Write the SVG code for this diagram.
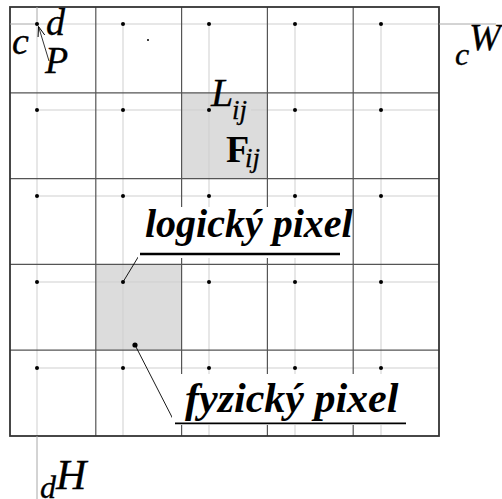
<svg xmlns="http://www.w3.org/2000/svg" width="502" height="499" viewBox="0 0 502 499">
<defs>
<style>
.dark{stroke:#555;stroke-width:1.2;fill:none}
.light{stroke:#cfcfcf;stroke-width:1;fill:none}
.mid{stroke:#a8a8a8;stroke-width:1;fill:none}
.dot{fill:#000}
.it{font-family:"Liberation Serif","Times New Roman",serif;font-style:italic;fill:#000;stroke:#000;stroke-width:0.3}
.bi{font-family:"Liberation Serif","Times New Roman",serif;font-style:italic;font-weight:bold;fill:#000}
.bd{font-family:"Liberation Serif","Times New Roman",serif;font-weight:bold;fill:#000}
.shade{fill:#dcdcdc}
</style>
<marker id="ah" viewBox="0 0 10 10" refX="10" refY="5" markerWidth="10" markerHeight="10" markerUnits="userSpaceOnUse" orient="auto">
<path d="M0,1.5 L10,5 L0,8.5" fill="none" stroke="#000" stroke-width="0.9"/>
</marker>
</defs>
<rect width="502" height="499" fill="#fff"/>

<g id="shaded-cells">
<rect class="shade" x="181.6" y="92.8" width="85.8" height="85.8"/>
<rect class="shade" x="95.8" y="264.4" width="85.8" height="85.8"/>
</g>

<g id="logical-grid">
<path class="light" d="M37,24H439 M37,110H439 M37,196H439 M37,282H439 M37,368H439"/>
<path class="light" d="M37,24V436 M123,24V436 M209,24V436 M295,24V436 M381,24V436"/>
</g>

<g id="physical-grid">
<path class="dark" d="M95.8,7V436 M181.6,7V436 M267.4,7V436 M353.2,7V436"/>
<path class="dark" d="M10,92.8H439 M10,178.6H439 M10,264.4H439 M10,350.2H439"/>
<rect x="10" y="7" width="429" height="429" fill="none" stroke="#333" stroke-width="1.8"/>
</g>

<g id="offsets">
<path class="mid" d="M10,24H37 M37,7V24"/>
<path class="mid" d="M439,24H496"/>
<path class="mid" d="M37,436V499"/>
</g>

<g id="dots">
<circle class="dot" cx="37" cy="24" r="2"/><circle class="dot" cx="123" cy="24" r="2"/><circle class="dot" cx="209" cy="24" r="2"/><circle class="dot" cx="295" cy="24" r="2"/><circle class="dot" cx="381" cy="24" r="2"/>
<circle class="dot" cx="37" cy="110" r="2"/><circle class="dot" cx="123" cy="110" r="2"/><circle class="dot" cx="209" cy="110" r="2"/><circle class="dot" cx="295" cy="110" r="2"/><circle class="dot" cx="381" cy="110" r="2"/>
<circle class="dot" cx="37" cy="196" r="2"/><circle class="dot" cx="123" cy="196" r="2"/><circle class="dot" cx="209" cy="196" r="2"/><circle class="dot" cx="295" cy="196" r="2"/><circle class="dot" cx="381" cy="196" r="2"/>
<circle class="dot" cx="37" cy="282" r="2"/><circle class="dot" cx="123" cy="282" r="2"/><circle class="dot" cx="209" cy="282" r="2"/><circle class="dot" cx="295" cy="282" r="2"/><circle class="dot" cx="381" cy="282" r="2"/>
<circle class="dot" cx="37" cy="368" r="2"/><circle class="dot" cx="123" cy="368" r="2"/><circle class="dot" cx="209" cy="368" r="2"/><circle class="dot" cx="295" cy="368" r="2"/><circle class="dot" cx="381" cy="368" r="2"/>
<circle class="dot" cx="148" cy="40" r="1"/>
<circle class="dot" cx="135" cy="345" r="2.6"/>
</g>

<g id="connectors">
<line x1="49" y1="61" x2="38.5" y2="26.5" stroke="#000" stroke-width="0.8" marker-end="url(#ah)"/>
<line x1="140" y1="254" x2="123" y2="282" stroke="#000" stroke-width="0.9"/>
<line x1="175" y1="423" x2="135" y2="345" stroke="#000" stroke-width="0.9"/>
</g>

<g id="label-c"><text class="it" x="12" y="54" font-size="38">c</text></g>
<g id="label-d"><text class="it" x="46" y="35" font-size="38">d</text></g>
<g id="label-P"><text class="it" x="45" y="73" font-size="38">P</text></g>
<g id="label-cW"><text class="it" x="455" y="65" font-size="32">c</text><text class="it" x="469" y="50" font-size="38">W</text></g>
<g id="label-dH"><text class="it" x="40" y="498" font-size="32">d</text><text class="it" x="56" y="489" font-size="42">H</text></g>

<g id="label-Lij">
<rect class="shade" x="211" y="97" width="40" height="28"/>
<text class="it" x="211" y="106" font-size="40">L</text><text class="it" x="232" y="119" font-size="27">ij</text>
</g>
<g id="label-Fij">
<text class="bd" x="226" y="162" font-size="38">F</text><text class="it" x="245" y="167" font-size="27">ij</text>
</g>

<g id="label-logicky">
<rect x="138" y="207" width="214" height="51" fill="#fff"/>
<text class="bi" x="145" y="237" font-size="40">logický pixel</text>
<line x1="140" y1="254" x2="340" y2="254" stroke="#000" stroke-width="2.6"/>
</g>

<g id="label-fyzicky">
<rect x="172" y="374" width="238" height="51" fill="#fff"/>
<text class="bi" x="185" y="412" font-size="42">fyzický pixel</text>
<line x1="175" y1="423.3" x2="406" y2="423.3" stroke="#000" stroke-width="1.8"/>
</g>
</svg>
